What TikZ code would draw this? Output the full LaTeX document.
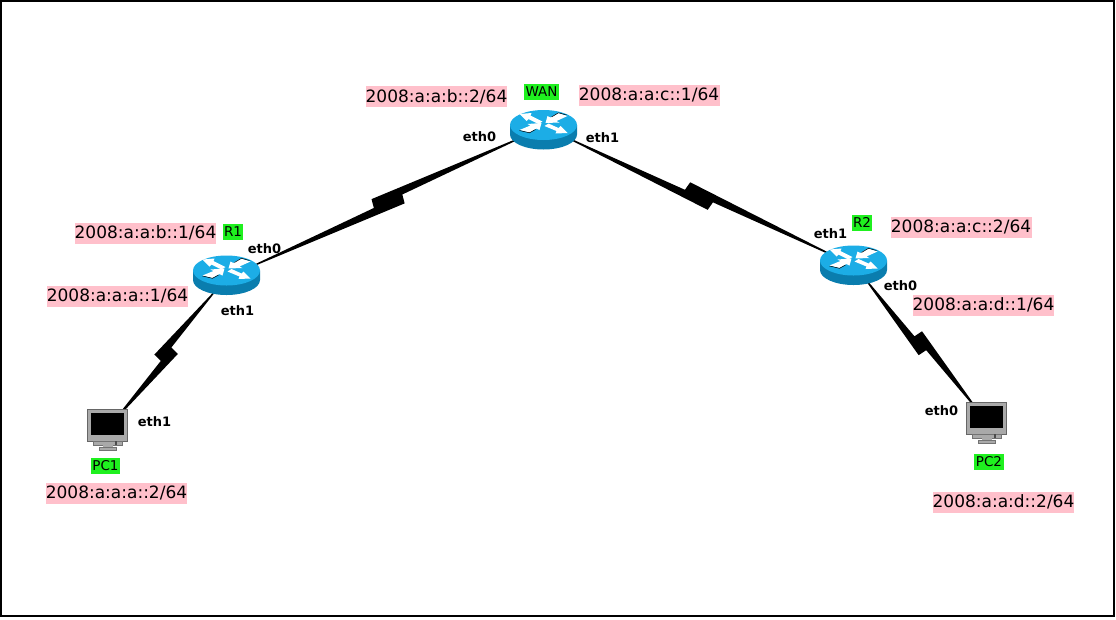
\documentclass[tikz,border=0pt]{standalone}
\usepackage{fontspec}
\setmainfont{DejaVu Sans}
\usetikzlibrary{calc}
\definecolor{addrpink}{HTML}{FFC0CB}
\definecolor{namegreen}{HTML}{1FF01F}
\definecolor{rtop}{HTML}{1CADE6}
\definecolor{rside}{HTML}{0A7DAE}
\definecolor{pcgrey}{HTML}{A9A9A9}
\newcommand{\boltlink}[2]{%
  \fill[black] (#1) -- ($(#1)!0.535!(#2)!-9pt!90:(#2)$) -- ($(#1)!0.54!(#2)$)
    -- (#2) -- ($(#1)!0.455!(#2)!9pt!90:(#2)$) -- ($(#1)!0.45!(#2)$) -- cycle;}
\tikzset{
  hub/.style={inner sep=0pt,minimum size=1pt},
  addr/.style={fill=addrpink,inner xsep=0pt,inner ysep=0pt,minimum width=141pt,minimum height=21pt,font=\fontsize{17}{20}\selectfont},
  devname/.style={fill=namegreen,inner xsep=1.5pt,inner ysep=0pt,minimum height=16pt,font=\fontsize{13.5}{15}\selectfont},
  port/.style={inner sep=0pt,font=\bfseries\fontsize{13}{15}\selectfont},
  routericon/.pic={
    \fill[rside] (-33.5,-4.5) -- (-33.5,5) arc[start angle=180,end angle=0,x radius=33.5,y radius=15] -- (33.5,-4.5) -- cycle;
    \fill[rtop] (0,-4.5) ellipse[x radius=33.5,y radius=15];
    \begin{scope}[shift={(0,-4.5)}]
      \fill[white] (-24,-11) -- (-12,-12) -- (-13,-9.5) -- (-1,-3.5) -- (-5,-1) -- (-15,-6) -- (-17,-4) -- cycle;
      \fill[white] (2,-2) -- (4,-9) -- (7,-7.5) -- (15,-12) -- (24,-9) -- (13,-4) -- (16,-2.5) -- cycle;
      \fill[white] (-2,-2) -- (-4,5) -- (-7,3.5) -- (-14,7.5) -- (-24,5) -- (-13,0.5) -- (-16,-1) -- cycle;
      \fill[white] (24,8) -- (12,8.5) -- (13,6) -- (1,1) -- (5,-1.5) -- (15,3) -- (17,1) -- cycle;
      \draw[black,line width=.5pt] (8,-8) -- (15,-12.2) -- (23,-10);
      \draw[black,line width=.5pt] (-24,5.5) -- (-14,7.8) -- (-8,4.5);
    \end{scope}
  },
  pcicon/.pic={
    \fill[pcgrey] (-20.5,-21) rectangle (20,11);
    \draw[black!60,line width=.5pt] (-20.5,-21) rectangle (20,11);
    \fill[black] (-16.5,-17) rectangle (16,5);
    \fill[pcgrey] (-14.5,11) rectangle (15,15);
    \draw[black!55,line width=.4pt] (-14.5,11) rectangle (15,15);
    \fill[black!70] (7,11) rectangle (9,15);
    \fill[pcgrey] (-5,15) rectangle (5,17);
    \fill[pcgrey] (-8.5,17) rectangle (9,20);
    \draw[black!55,line width=.4pt] (-8.5,17) rectangle (9,20);
  }
}
\begin{document}
\begin{tikzpicture}[x=1pt,y=-1pt]
\useasboundingbox (0,0) rectangle (1116,619);
\fill[white] (0,0) rectangle (1116,619);
\draw[black,line width=2pt] (1,1) rectangle (1113.5,616);
\node[hub] (wan) at (545,127) {};
\node[hub] (r1) at (228,277) {};
\node[hub] (r2) at (856,266.5) {};
\node[hub] (r1b) at (224,281) {};
\node[hub] (pc1) at (107,429) {};
\node[hub] (r2b) at (856,267) {};
\node[hub] (pc2) at (986,421) {};
\boltlink{wan}{r1}
\boltlink{wan}{r2}
\boltlink{r1b}{pc1}
\boltlink{r2b}{pc2}
\pic at (543.5,129.5) {routericon};
\pic at (226.5,275) {routericon};
\pic at (853.5,265) {routericon};
\pic at (107.5,430) {pcicon};
\pic at (986.5,423) {pcicon};
\node[addr] (a1) at (436.5,96.5) {2008:a:a:b::2/64};
\node[addr] (a2) at (649,95) {2008:a:a:c::1/64};
\node[addr] (a3) at (145.5,233) {2008:a:a:b::1/64};
\node[addr] (a4) at (117.5,296) {2008:a:a:a::1/64};
\node[addr] (a5) at (116.5,493) {2008:a:a:a::2/64};
\node[addr] (a6) at (961,227) {2008:a:a:c::2/64};
\node[addr] (a7) at (983.5,305) {2008:a:a:d::1/64};
\node[addr] (a8) at (1003.5,502) {2008:a:a:d::2/64};
\node[devname] (n1) at (541.5,92) {WAN};
\node[devname] (n2) at (233,232) {R1};
\node[devname] (n3) at (862,222.5) {R2};
\node[devname] (n4) at (105.5,466) {PC1};
\node[devname] (n5) at (989,461.5) {PC2};
\node[port] (p1) at (479.5,137) {eth0};
\node[port] (p2) at (602.5,138) {eth1};
\node[port] (p3) at (264.5,249) {eth0};
\node[port] (p4) at (237.5,311) {eth1};
\node[port] (p5) at (154.5,422) {eth1};
\node[port] (p6) at (830.5,234) {eth1};
\node[port] (p7) at (900.5,286) {eth0};
\node[port] (p8) at (941.5,411) {eth0};
\end{tikzpicture}
\end{document}
